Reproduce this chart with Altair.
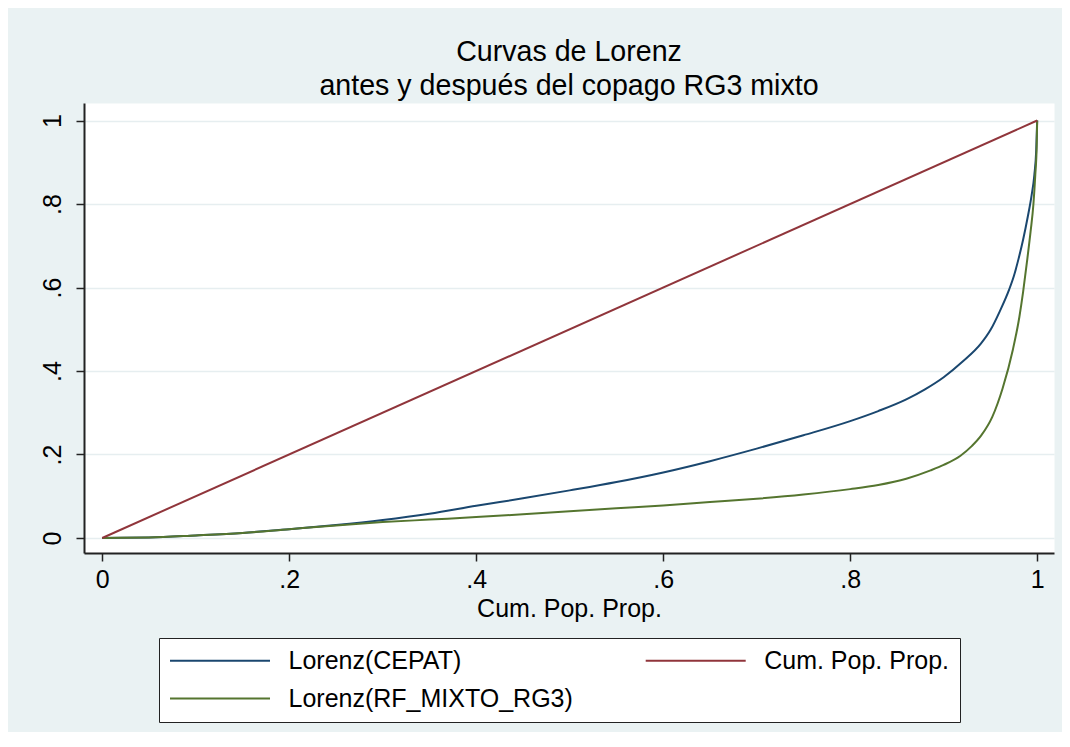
import altair as alt
import pandas as pd

# ---- data ----
# legend entries are laid out column by column: CEPAT, RF (column 1), Cum. Pop. Prop. (column 2)
series_names = ["Lorenz(CEPAT)", "Lorenz(RF_MIXTO_RG3)", "Cum. Pop. Prop."]
series_colors = ["#1A476F", "#55752F", "#90353B"]

x_cepat = [0.0, 0.05, 0.1, 0.15, 0.2, 0.25, 0.3, 0.35, 0.4, 0.45, 0.5, 0.55, 0.6,
           0.65, 0.7, 0.75, 0.8, 0.83, 0.86, 0.88, 0.9, 0.92, 0.94, 0.95, 0.96,
           0.97, 0.975, 0.98, 0.985, 0.99, 0.994, 0.997, 0.999, 1.0]
y_cepat = [0.0, 0.001, 0.006, 0.012, 0.021, 0.031, 0.043, 0.058, 0.077, 0.095, 0.114,
           0.134, 0.157, 0.184, 0.214, 0.246, 0.280, 0.304, 0.332, 0.356, 0.385,
           0.422, 0.466, 0.498, 0.543, 0.595, 0.627, 0.668, 0.715, 0.770, 0.820,
           0.870, 0.930, 1.0]

x_pop = [0.0, 1.0]
y_pop = [0.0, 1.0]

x_rf = [0.0, 0.05, 0.1, 0.15, 0.2, 0.25, 0.3, 0.35, 0.4, 0.45, 0.5, 0.55, 0.6, 0.65,
        0.7, 0.75, 0.8, 0.83, 0.86, 0.886, 0.9, 0.918, 0.93, 0.94, 0.952, 0.963,
        0.974, 0.981, 0.985, 0.989, 0.993, 0.996, 0.998, 0.9995, 1.0]
y_rf = [0.0, 0.001, 0.006, 0.012, 0.021, 0.030, 0.038, 0.044, 0.050, 0.057, 0.064,
        0.071, 0.078, 0.086, 0.094, 0.104, 0.117, 0.127, 0.142, 0.162, 0.175, 0.197,
        0.220, 0.245, 0.290, 0.358, 0.451, 0.530, 0.590, 0.660, 0.735, 0.800, 0.870,
        0.940, 1.0]

tick_values = [0, 0.2, 0.4, 0.6, 0.8, 1]

title_lines = ["Curvas de Lorenz", "antes y después del copago RG3 mixto"]
x_title = "Cum. Pop. Prop."

rows = []
for name, xs, ys in zip(series_names, [x_cepat, x_rf, x_pop], [y_cepat, y_rf, y_pop]):
    for i, (a, b) in enumerate(zip(xs, ys)):
        rows.append({"series": name, "x": a, "y": b, "i": i})
df = pd.DataFrame(rows)

FONT = "Liberation Sans"
label_expr = ("datum.value == 0 || datum.value == 1 ? format(datum.value, 'd') : "
              "substring(format(datum.value, '.1f'), 1)")

chart = alt.Chart(df).mark_line(strokeWidth=2, interpolate="monotone").encode(
    x=alt.X("x:Q",
            scale=alt.Scale(domain=[-0.0195, 1.018], nice=False, zero=False),
            axis=alt.Axis(values=tick_values, labelExpr=label_expr, title=x_title,
                          grid=False, labelPadding=6, titlePadding=4)),
    y=alt.Y("y:Q",
            scale=alt.Scale(domain=[-0.036, 1.042], nice=False, zero=False),
            axis=alt.Axis(values=tick_values, labelExpr=label_expr, title=None,
                          grid=True, gridColor="#E6EEF0", gridWidth=1.5,
                          labelAngle=270, labelAlign="center",
                          labelBaseline="alphabetic", labelPadding=16)),
    color=alt.Color("series:N",
                    scale=alt.Scale(domain=series_names, range=series_colors),
                    legend=alt.Legend(
                        title=None, orient="none", legendX=75, legendY=535,
                        columns=2, columnPadding=68.7, rowPadding=12,
                        padding=10, fillColor="white", strokeColor="#222222",
                        symbolType="M-1,0H7.696", symbolSize=529,
                        symbolStrokeWidth=2, labelFontSize=25, labelFont=FONT,
                        labelColor="black", labelOffset=94.5, labelLimit=500)),
    order="i:Q",
).properties(
    width=970,
    height=450,
    autosize=alt.AutoSizeParams(type="none"),
    padding={"left": 76, "top": 95, "right": 8, "bottom": 179},
    background="#EAF2F3",
    title=alt.TitleParams(text=title_lines, font=FONT, fontSize=28.6,
                          fontWeight="normal", color="black", lineHeight=34,
                          anchor="middle", baseline="bottom", offset=2, dy=29),
).configure_view(
    fill="white", stroke="transparent"
).configure_axis(
    labelFont=FONT, labelFontSize=25, labelColor="black",
    titleFont=FONT, titleFontSize=25, titleFontWeight="normal", titleColor="black",
    domainColor="#222222", domainWidth=2, tickColor="#222222", tickWidth=1.5,
    tickSize=8,
)

chart.save("out.html", embed_options={"renderer": "svg", "actions": False})
